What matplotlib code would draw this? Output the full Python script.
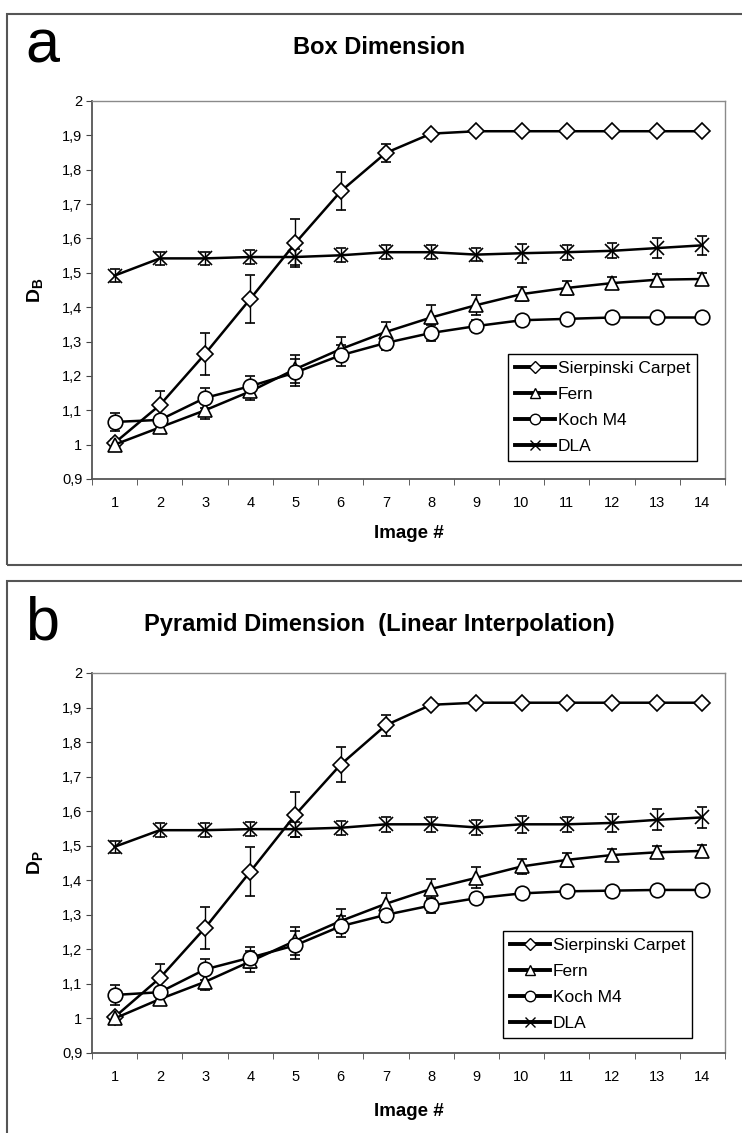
import matplotlib
matplotlib.use("Agg")
import matplotlib.pyplot as plt
from matplotlib.lines import Line2D
from matplotlib.patches import Rectangle
import numpy as np

plt.rcParams['font.family'] = ['Liberation Sans', 'DejaVu Sans']
plt.rcParams['mathtext.fontset'] = 'custom'
plt.rcParams['mathtext.rm'] = 'Liberation Sans'
plt.rcParams['mathtext.bf'] = 'Liberation Sans:bold'

# Data
images = np.arange(1, 15)
series_names = ["Sierpinski Carpet", "Fern", "Koch M4", "DLA"]

# panel a: box dimension
sier_a = [1.005, 1.115, 1.264, 1.424, 1.587, 1.737, 1.849, 1.905, 1.912, 1.912, 1.912, 1.912, 1.912, 1.912]
sier_a_err = [0.01, 0.04, 0.06, 0.07, 0.07, 0.055, 0.027, 0.005, 0.004, 0.004, 0.004, 0.004, 0.004, 0.004]
fern_a = [1.0, 1.05, 1.10, 1.155, 1.22, 1.278, 1.328, 1.37, 1.406, 1.438, 1.456, 1.47, 1.48, 1.482]
fern_a_err = [0.012, 0.01, 0.025, 0.025, 0.04, 0.035, 0.03, 0.035, 0.03, 0.02, 0.02, 0.018, 0.017, 0.018]
koch_a = [1.066, 1.072, 1.136, 1.17, 1.21, 1.26, 1.296, 1.325, 1.345, 1.362, 1.366, 1.37, 1.37, 1.37]
koch_a_err = [0.027, 0.01, 0.03, 0.03, 0.04, 0.03, 0.02, 0.024, 0.017, 0.01, 0.008, 0.008, 0.008, 0.008]
dla_a = [1.492, 1.542, 1.542, 1.546, 1.546, 1.551, 1.56, 1.56, 1.553, 1.557, 1.56, 1.564, 1.572, 1.58]
dla_a_err = [0.018, 0.02, 0.02, 0.02, 0.022, 0.02, 0.02, 0.02, 0.02, 0.027, 0.022, 0.022, 0.03, 0.028]

# panel b: pyramid dimension
sier_b = [1.004, 1.117, 1.262, 1.425, 1.59, 1.735, 1.849, 1.908, 1.914, 1.914, 1.914, 1.914, 1.914, 1.914]
sier_b_err = [0.01, 0.04, 0.06, 0.07, 0.065, 0.05, 0.03, 0.005, 0.004, 0.004, 0.004, 0.004, 0.004, 0.004]
fern_b = [1.0, 1.056, 1.106, 1.165, 1.225, 1.282, 1.332, 1.375, 1.407, 1.44, 1.459, 1.473, 1.481, 1.485]
fern_b_err = [0.012, 0.01, 0.025, 0.03, 0.04, 0.035, 0.03, 0.03, 0.03, 0.022, 0.02, 0.018, 0.017, 0.018]
koch_b = [1.068, 1.076, 1.142, 1.176, 1.212, 1.267, 1.3, 1.327, 1.348, 1.362, 1.368, 1.37, 1.372, 1.372]
koch_b_err = [0.028, 0.01, 0.03, 0.03, 0.04, 0.03, 0.022, 0.022, 0.015, 0.01, 0.008, 0.008, 0.008, 0.008]
dla_b = [1.497, 1.545, 1.545, 1.548, 1.548, 1.552, 1.562, 1.562, 1.553, 1.562, 1.562, 1.566, 1.575, 1.582]
dla_b_err = [0.018, 0.02, 0.02, 0.02, 0.022, 0.02, 0.022, 0.022, 0.022, 0.025, 0.022, 0.025, 0.03, 0.03]

y_ticks = [0.9, 1.0, 1.1, 1.2, 1.3, 1.4, 1.5, 1.6, 1.7, 1.8, 1.9, 2.0]

markers = ['D', '^', 'o', 'x']
msizes = [8.5, 10, 10.5, 10.5]

W, H = 742, 1133
fig = plt.figure(figsize=(W / 100, H / 100), dpi=100)


def fx(px):
    return px / W


def fy(py):
    return 1 - py / H


# outer panel frames
for top, bot in [(14, 565), (581, 1145)]:
    fig.patches.append(Rectangle((fx(7), fy(bot)), 1.2, (bot - top) / H,
                                 transform=fig.transFigure, fill=False,
                                 edgecolor='#555555', lw=1.5, zorder=0))


def draw_panel(top, bot, series, ylab, title, letter, title_y, xlab_y, leg_anchor):
    ax = fig.add_axes([fx(92), fy(bot), fx(725) - fx(92), (bot - top) / H])
    for (vals, errs), name, m, ms in zip(series, series_names, markers, msizes):
        ax.errorbar(images, vals, yerr=errs, fmt='-', color='black', lw=1.8,
                    marker=m, ms=ms, mfc='white', mec='black', mew=1.2,
                    ecolor='black', elinewidth=1.0, capsize=3.6, capthick=1.0,
                    label=name)
    ax.set_xlim(0.5, 14.5)
    ax.set_ylim(0.9, 2.0)
    ax.set_yticks(y_ticks)
    ax.set_yticklabels([f"{v:g}".replace('.', ',') for v in y_ticks])
    ax.set_xticks(images)
    ax.set_xticks(np.arange(0.5, 15, 1), minor=True)
    ax.tick_params(axis='x', which='major', length=0, pad=12, labelsize=10.5)
    ax.tick_params(axis='x', which='minor', length=4, direction='out', color='#444444')
    ax.tick_params(axis='y', length=4, direction='out', pad=3, labelsize=10.5, color='#444444')
    for s in ['top', 'right']:
        ax.spines[s].set_color('#8a8a8a')
        ax.spines[s].set_linewidth(1.0)
    for s in ['left', 'bottom']:
        ax.spines[s].set_color('#555555')
        ax.spines[s].set_linewidth(1.3)

    ax.text((35 - 92) / 633, 0.5, ylab, transform=ax.transAxes, rotation=90,
            ha='center', va='center', fontsize=14, fontweight='bold')
    ax.text(0.5, xlab_y, "Image #", transform=ax.transAxes, ha='center',
            va='center', fontsize=13.5, fontweight='bold')

    handles = [Line2D([], [], color='black', lw=2.8, marker=m, ms=ms * 0.72,
                      mfc='white', mec='black', mew=1.0)
               for m, ms in zip(markers, msizes)]
    leg = ax.legend(handles, series_names, loc='lower right', bbox_to_anchor=leg_anchor,
                    fontsize=12.5, frameon=True, fancybox=False, edgecolor='black',
                    framealpha=1, handlelength=2.3, handletextpad=0.15,
                    borderpad=0.4, labelspacing=0.62, borderaxespad=0)
    leg.get_frame().set_linewidth(1.0)

    fig.text(fx(379), fy(title_y), title, ha='center', va='center',
             fontsize=17, fontweight='bold')
    fig.text(fx(42), fy(title_y), letter, ha='center', va='center', fontsize=44)
    return ax


draw_panel(101, 479,
           [(sier_a, sier_a_err), (fern_a, fern_a_err), (koch_a, koch_a_err), (dla_a, dla_a_err)],
           r'$\mathbf{D_B}$', "Box Dimension", "a", 47, -0.143, (0.956, 0.048))
draw_panel(673, 1053,
           [(sier_b, sier_b_err), (fern_b, fern_b_err), (koch_b, koch_b_err), (dla_b, dla_b_err)],
           r'$\mathbf{D_P}$', "Pyramid Dimension  (Linear Interpolation)", "b", 624, -0.153,
           (0.948, 0.039))

fig.savefig("out.png", dpi=100)
